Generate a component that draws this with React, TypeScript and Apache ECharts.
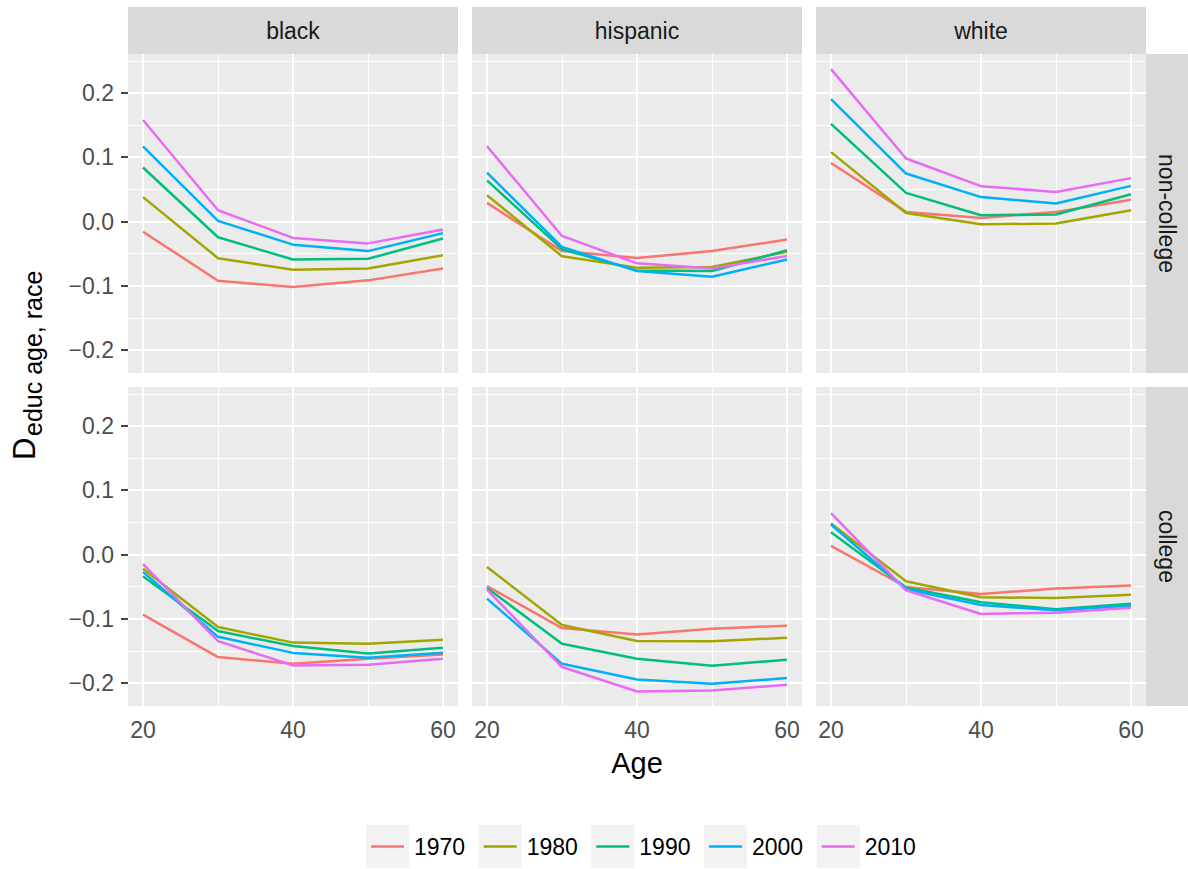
import React, { useEffect, useRef } from 'react';
import * as echarts from 'echarts';

// ---------- data ----------
const ages = [20, 30, 40, 50, 60];
const years = ['1970', '1980', '1990', '2000', '2010'];
const yearColors = ['#F8766D', '#A3A500', '#00BF7D', '#00B0F6', '#E76BF3'];
const races = ['black', 'hispanic', 'white'];
const educLevels = ['non-college', 'college'];

const xMajorTicks = [20, 40, 60];
const xMinorTicks = [30, 50];
const yMajorTicks = [-0.2, -0.1, 0, 0.1, 0.2];
const yMinorTicks = [-0.15, -0.05, 0.05, 0.15, 0.25];
const xLimits = [18, 62];
const yLimits = [-0.2356, 0.2606];

// rows: 1970, 1980, 1990, 2000, 2010 ; columns: ages 20..60
const blackNonCollege = [
  [-0.016, -0.092, -0.102, -0.0915, -0.073],
  [0.038, -0.057, -0.075, -0.073, -0.0525],
  [0.084, -0.0245, -0.059, -0.058, -0.0265],
  [0.117, 0.001, -0.036, -0.046, -0.018],
  [0.158, 0.0176, -0.0255, -0.034, -0.0125],
];
const hispanicNonCollege = [
  [0.029, -0.046, -0.0567, -0.046, -0.028],
  [0.041, -0.054, -0.0717, -0.0707, -0.047],
  [0.064, -0.043, -0.076, -0.077, -0.0447],
  [0.076, -0.0395, -0.077, -0.086, -0.059],
  [0.117, -0.0224, -0.065, -0.073, -0.0535],
];
const whiteNonCollege = [
  [0.091, 0.015, 0.0056, 0.015, 0.034],
  [0.108, 0.0134, -0.0042, -0.003, 0.0176],
  [0.152, 0.0446, 0.0098, 0.011, 0.0425],
  [0.1905, 0.0747, 0.038, 0.028, 0.0555],
  [0.237, 0.098, 0.055, 0.046, 0.0675],
];
const blackCollege = [
  [-0.0935, -0.1595, -0.17, -0.162, -0.1554],
  [-0.022, -0.1128, -0.137, -0.1387, -0.1325],
  [-0.0338, -0.119, -0.1424, -0.154, -0.145],
  [-0.027, -0.128, -0.153, -0.1606, -0.1528],
  [-0.015, -0.1346, -0.1725, -0.1714, -0.162],
];
const hispanicCollege = [
  [-0.049, -0.1144, -0.1242, -0.1153, -0.1107],
  [-0.0193, -0.1097, -0.1346, -0.135, -0.1294],
  [-0.052, -0.1387, -0.162, -0.173, -0.1637],
  [-0.0686, -0.17, -0.1943, -0.201, -0.192],
  [-0.0546, -0.175, -0.213, -0.2115, -0.2026],
];
const whiteCollege = [
  [0.0134, -0.0505, -0.0614, -0.053, -0.0483],
  [0.0483, -0.0416, -0.0665, -0.0676, -0.0624],
  [0.0348, -0.0514, -0.0743, -0.0852, -0.0764],
  [0.0467, -0.054, -0.0785, -0.0868, -0.0795],
  [0.0644, -0.0556, -0.0925, -0.0904, -0.0826],
];

const panelData = [
  [blackNonCollege, hispanicNonCollege, whiteNonCollege],
  [blackCollege, hispanicCollege, whiteCollege],
];

// ---------- layout ----------
const W = 1188;
const H = 869;
const COL_LEFT = [128, 472, 816];
const ROW_TOP = [54, 387];
const PW = 330;
const PH = 319;
const FONT = '"Liberation Sans", Arial, Helvetica, sans-serif';

const fmtY = (v: number) => {
  const s = (Math.abs(v) < 1e-9 ? 0 : v).toFixed(1);
  return s.replace('-', '\u2212');
};

const legendLineIcon =
  'path://M0,0L43,0L43,0.01L0,0.01Z M5,20.2L38,20.2L38,22.8L5,22.8Z M0,42.99L43,42.99L43,43L0,43Z';

function buildOption() {
  const grid: any[] = [];
  const xAxis: any[] = [];
  const yAxis: any[] = [];
  const series: any[] = [];

  for (let r = 0; r < 2; r++) {
    for (let c = 0; c < 3; c++) {
      const idx = r * 3 + c;
      grid.push({
        left: COL_LEFT[c],
        top: ROW_TOP[r],
        width: PW,
        height: PH,
        show: true,
        backgroundColor: '#EBEBEB',
        borderWidth: 0,
      });
      const bottomRow = r === 1;
      const leftCol = c === 0;
      xAxis.push({
        type: 'value',
        gridIndex: idx,
        min: xLimits[0],
        max: xLimits[1],
        axisLine: { show: false },
        splitLine: { show: false },
        axisTick: {
          show: bottomRow,
          customValues: xMajorTicks,
          length: 7,
          lineStyle: { color: '#333333', width: 1.8 },
        },
        axisLabel: {
          show: bottomRow,
          customValues: xMajorTicks,
          margin: 12,
          fontSize: 23,
          fontFamily: FONT,
          color: '#4D4D4D',
          formatter: (v: number) => String(v),
        },
      });
      yAxis.push({
        type: 'value',
        gridIndex: idx,
        min: yLimits[0],
        max: yLimits[1],
        axisLine: { show: false },
        splitLine: { show: false },
        axisTick: {
          show: leftCol,
          customValues: yMajorTicks,
          length: 7,
          lineStyle: { color: '#333333', width: 1.8 },
        },
        axisLabel: {
          show: leftCol,
          customValues: yMajorTicks,
          margin: 14,
          fontSize: 23,
          fontFamily: FONT,
          color: '#4D4D4D',
          formatter: fmtY,
        },
      });

      // grid lines drawn through the axes' scales
      const mlData: any[] = [];
      yMinorTicks.forEach((v) => mlData.push({ yAxis: v, lineStyle: { width: 1 } }));
      xMinorTicks.forEach((v) => mlData.push({ xAxis: v, lineStyle: { width: 1 } }));
      yMajorTicks.forEach((v) => mlData.push({ yAxis: v, lineStyle: { width: 2 } }));
      xMajorTicks.forEach((v) => mlData.push({ xAxis: v, lineStyle: { width: 2 } }));
      series.push({
        name: 'grid-' + idx,
        type: 'line',
        xAxisIndex: idx,
        yAxisIndex: idx,
        data: [],
        silent: true,
        z: 1,
        markLine: {
          silent: true,
          symbol: ['none', 'none'],
          label: { show: false },
          emphasis: { disabled: true },
          lineStyle: { color: '#FFFFFF', type: 'solid', opacity: 1 },
          data: mlData,
        },
      });

      const block = panelData[r][c];
      years.forEach((y, k) => {
        series.push({
          name: y,
          type: 'line',
          xAxisIndex: idx,
          yAxisIndex: idx,
          data: ages.map((a, i) => [a, block[k][i]]),
          symbol: 'none',
          showSymbol: false,
          silent: true,
          z: 10,
          color: yearColors[k],
          lineStyle: { color: yearColors[k], width: 2.5 },
        });
      });
    }
  }

  const graphic: any[] = [];
  races.forEach((race, c) => {
    graphic.push({
      type: 'rect',
      shape: { x: COL_LEFT[c], y: 7, width: PW, height: 47 },
      style: { fill: '#D9D9D9' },
      silent: true,
    });
    graphic.push({
      type: 'text',
      x: COL_LEFT[c] + PW / 2,
      y: 30.5,
      silent: true,
      style: {
        text: race,
        fontSize: 23,
        fontFamily: FONT,
        fill: '#1A1A1A',
        align: 'center',
        verticalAlign: 'middle',
      },
    });
  });
  educLevels.forEach((ed, r) => {
    graphic.push({
      type: 'rect',
      shape: { x: 1146, y: ROW_TOP[r], width: 42, height: PH },
      style: { fill: '#D9D9D9' },
      silent: true,
    });
    graphic.push({
      type: 'text',
      x: 1167,
      y: ROW_TOP[r] + PH / 2,
      rotation: -Math.PI / 2,
      silent: true,
      style: {
        text: ed,
        fontSize: 23,
        fontFamily: FONT,
        fill: '#1A1A1A',
        align: 'center',
        verticalAlign: 'middle',
      },
    });
  });
  // x axis title
  graphic.push({
    type: 'text',
    x: 637,
    y: 763,
    silent: true,
    style: {
      text: 'Age',
      fontSize: 29,
      fontFamily: FONT,
      fill: '#000000',
      align: 'center',
      verticalAlign: 'middle',
    },
  });
  // y axis title: D with subscript
  graphic.push({
    type: 'text',
    x: 24,
    y: 460,
    rotation: Math.PI / 2,
    silent: true,
    style: {
      text: 'D',
      fontSize: 31,
      fontFamily: FONT,
      fill: '#000000',
      align: 'left',
      verticalAlign: 'middle',
    },
  });
  graphic.push({
    type: 'text',
    x: 33,
    y: 436,
    rotation: Math.PI / 2,
    silent: true,
    style: {
      text: 'educ age, race',
      fontSize: 25,
      fontFamily: FONT,
      fill: '#000000',
      align: 'left',
      verticalAlign: 'middle',
    },
  });

  const legendCommon = {
    data: years,
    orient: 'horizontal',
    left: 366,
    top: 825,
    padding: 0,
    itemWidth: 43,
    itemHeight: 43,
    itemGap: 13.5,
    selectedMode: false,
  };

  return {
    animation: false,
    backgroundColor: '#FFFFFF',
    textStyle: { fontFamily: FONT },
    grid,
    xAxis,
    yAxis,
    series,
    graphic,
    legend: [
      {
        ...legendCommon,
        z: 3,
        icon: 'rect',
        itemStyle: { color: '#F2F2F2', borderWidth: 0 },
        textStyle: { fontSize: 23, fontFamily: FONT, color: 'rgba(0,0,0,0)' },
      },
      {
        ...legendCommon,
        z: 4,
        icon: legendLineIcon,
        itemStyle: { borderWidth: 0 },
        textStyle: { fontSize: 23, fontFamily: FONT, color: '#000000' },
      },
    ],
  };
}

export default function App() {
  const ref = useRef<HTMLDivElement>(null);
  useEffect(() => {
    if (!ref.current) return;
    const chart = echarts.init(ref.current, undefined, { renderer: 'svg', width: W, height: H });
    chart.setOption(buildOption() as any);
    return () => {
      chart.dispose();
    };
  }, []);
  return (
    <div
      ref={ref}
      style={{ position: 'fixed', left: 0, top: 0, width: W, height: H, background: '#FFFFFF' }}
    />
  );
}
